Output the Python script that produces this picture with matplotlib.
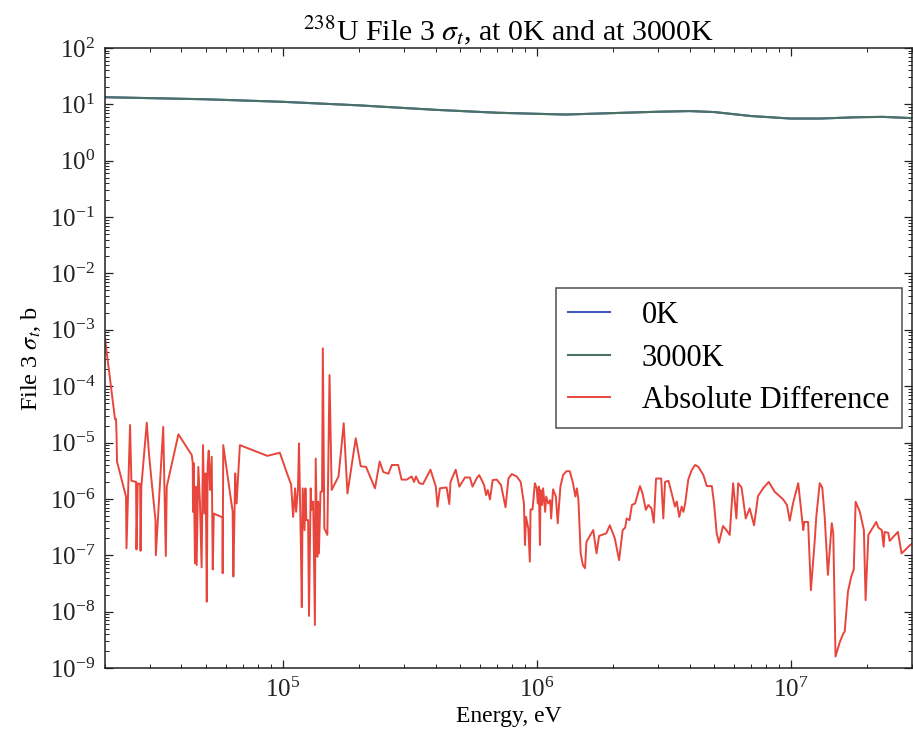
import matplotlib
matplotlib.use("Agg")
import matplotlib.pyplot as plt
import numpy as np

# ---- data ----
energy_total = [2.0e4, 5.0e4, 1.0e5, 2.0e5, 4.0e5, 7.0e5, 1.0e6, 1.3e6, 2.0e6, 3.0e6,
                4.0e6, 5.0e6, 7.0e6, 1.0e7, 1.3e7, 1.8e7, 2.3e7, 3.0e7]
sigma_0K = [13.4, 12.3, 11.1, 9.6, 8.0, 7.1, 6.8, 6.6, 7.0, 7.4,
            7.6, 7.3, 6.2, 5.6, 5.6, 5.9, 6.0, 5.7]
sigma_3000K = list(sigma_0K)

energy_diff = [
    2.0e4, 2.19e4, 2.21e4, 2.22e4, 2.23e4, 2.42e4, 2.43e4, 2.51e4, 2.54e4, 2.65e4,
    2.66e4, 2.69e4, 2.75e4, 2.76e4, 2.78e4, 2.92e4, 2.98e4, 3.03e4, 3.16e4, 3.17e4,
    3.39e4, 3.47e4, 3.50e4, 3.89e4, 4.39e4, 4.43e4, 4.44e4, 4.47e4, 4.52e4, 4.55e4,
    4.59e4, 4.66e4, 4.73e4, 4.80e4, 4.86e4, 4.92e4, 4.98e4, 5.03e4, 5.07e4, 5.12e4,
    5.18e4, 5.26e4, 5.31e4, 5.36e4, 5.80e4, 5.81e4, 5.84e4, 6.36e4, 6.40e4, 6.51e4,
    6.59e4, 6.79e4, 8.71e4, 9.75e4, 1.07e5, 1.08e5, 1.10e5, 1.12e5, 1.13e5, 1.15e5,
    1.16e5, 1.18e5, 1.19e5, 1.20e5, 1.22e5, 1.23e5, 1.24e5, 1.26e5, 1.27e5, 1.29e5,
    1.30e5, 1.32e5, 1.34e5, 1.35e5, 1.37e5, 1.38e5, 1.39e5, 1.41e5, 1.43e5, 1.44e5,
    1.46e5, 1.50e5, 1.53e5, 1.56e5, 1.66e5, 1.74e5, 1.80e5, 1.94e5, 2.03e5, 2.13e5,
    2.31e5, 2.41e5, 2.49e5, 2.61e5, 2.69e5, 2.85e5, 2.94e5, 3.08e5, 3.22e5, 3.29e5,
    3.35e5, 3.45e5, 3.57e5, 3.82e5, 4.01e5, 4.07e5, 4.16e5, 4.42e5, 4.53e5, 4.58e5,
    4.80e5, 4.96e5, 5.22e5, 5.46e5, 5.59e5, 5.80e5, 5.94e5, 6.21e5, 6.32e5, 6.42e5,
    6.55e5, 6.71e5, 6.96e5, 7.24e5, 7.54e5, 7.74e5, 7.98e5, 8.35e5, 8.65e5, 8.91e5,
    8.99e5, 9.08e5, 9.27e5, 9.40e5, 9.46e5, 9.63e5, 9.84e5, 1.00e6, 1.01e6, 1.02e6,
    1.03e6, 1.035e6, 1.05e6, 1.06e6, 1.08e6, 1.09e6, 1.11e6, 1.13e6, 1.14e6, 1.16e6,
    1.19e6, 1.21e6, 1.24e6, 1.27e6, 1.31e6, 1.35e6, 1.39e6, 1.42e6, 1.44e6, 1.46e6,
    1.49e6, 1.52e6, 1.55e6, 1.57e6, 1.67e6, 1.72e6, 1.76e6, 1.88e6, 1.94e6, 2.03e6,
    2.11e6, 2.18e6, 2.23e6, 2.26e6, 2.32e6, 2.37e6, 2.44e6, 2.55e6, 2.61e6, 2.69e6,
    2.75e6, 2.83e6, 2.89e6, 2.95e6, 3.09e6, 3.15e6, 3.20e6, 3.30e6, 3.40e6, 3.50e6,
    3.56e6, 3.64e6, 3.72e6, 3.78e6, 3.84e6, 3.95e6, 4.07e6, 4.20e6, 4.33e6, 4.53e6,
    4.67e6, 4.89e6, 4.99e6, 5.11e6, 5.22e6, 5.41e6, 5.58e6, 5.75e6, 5.93e6, 6.11e6,
    6.21e6, 6.40e6, 6.65e6, 6.89e6, 7.17e6, 7.43e6, 7.78e6, 8.19e6, 8.64e6, 9.33e6,
    9.66e6, 9.91e6, 1.02e7, 1.07e7, 1.12e7, 1.13e7, 1.17e7, 1.20e7, 1.24e7, 1.26e7,
    1.30e7, 1.33e7, 1.36e7, 1.40e7, 1.45e7, 1.47e7, 1.50e7, 1.56e7, 1.61e7, 1.63e7,
    1.68e7, 1.73e7, 1.77e7, 1.80e7, 1.87e7, 1.94e7, 1.97e7, 2.02e7, 2.17e7, 2.21e7,
    2.28e7, 2.32e7, 2.34e7, 2.42e7, 2.45e7, 2.64e7, 2.73e7, 2.85e7, 2.94e7, 3.0e7]

abs_diff = [
    7.0e-4, 2.6e-5, 2.6e-5, 1.46e-5, 4.6e-6, 1.09e-6, 1.33e-7, 2.05e-5, 2.1e-6, 2.0e-6,
    1.27e-7, 1.89e-6, 1.84e-6, 1.2e-7, 1.65e-6, 2.25e-5, 6.25e-6, 2.84e-6, 4.2e-7, 1.0e-7,
    1.9e-5, 9.7e-8, 1.65e-6, 1.4e-5, 6.0e-6, 4.3e-6, 5.9e-7, 4.3e-6, 7.2e-8, 1.65e-6,
    6.7e-8, 3.7e-6, 8.3e-7, 6.1e-8, 9.0e-6, 5.5e-7, 2.84e-6, 1.5e-8, 3.7e-6, 7.2e-6,
    1.44e-6, 5.6e-6, 5.6e-8, 5.5e-7, 4.7e-7, 4.8e-8, 9.0e-6, 5.9e-7, 4.2e-8, 2.84e-6,
    8.3e-7, 9.0e-6, 5.8e-6, 6.6e-6, 2.0e-6, 1.84e-6, 4.8e-7, 1.54e-6, 5.9e-7, 1.54e-6,
    9.7e-6, 1.6e-7, 1.2e-8, 1.54e-6, 2.8e-7, 1.54e-6, 4.2e-7, 4.2e-7, 8.4e-9, 1.54e-6,
    6.4e-7, 8.9e-7, 5.8e-9, 5.2e-6, 9.4e-8, 8.9e-7, 1.08e-7, 1.34e-6, 1.34e-6, 4.7e-4,
    3.0e-7, 2.3e-7, 1.58e-4, 1.44e-6, 2.5e-6, 2.2e-5, 1.25e-6, 1.19e-5, 3.8e-6, 3.7e-6,
    1.54e-6, 4.6e-6, 3.0e-6, 2.8e-6, 4.0e-6, 4.0e-6, 2.2e-6, 2.2e-6, 2.5e-6, 2.0e-6,
    2.5e-6, 1.9e-6, 1.84e-6, 3.3e-6, 1.65e-6, 7.3e-7, 1.54e-6, 1.6e-6, 8.1e-7, 2.0e-6,
    3.3e-6, 1.65e-6, 2.4e-6, 2.4e-6, 1.65e-6, 2.3e-6, 2.65e-6, 1.76e-6, 1.17e-6, 1.44e-6,
    9.8e-7, 2.16e-6, 2.2e-6, 1.76e-6, 7.1e-7, 2.3e-6, 2.76e-6, 2.5e-6, 2.0e-6, 8.3e-7,
    1.52e-7, 4.8e-7, 3.0e-7, 7.7e-8, 6.5e-7, 6.5e-7, 1.9e-6, 1.54e-6, 8.3e-7, 1.65e-6,
    1.52e-7, 1.44e-6, 7.8e-7, 1.54e-6, 5.9e-7, 1.1e-6, 8.3e-7, 9.5e-7, 4.5e-7, 1.48e-6,
    1.1e-6, 3.7e-7, 1.65e-6, 2.65e-6, 3.1e-6, 3.1e-6, 1.9e-6, 1.1e-6, 1.54e-6, 9.5e-7,
    1.08e-7, 6.7e-8, 5.9e-8, 1.74e-7, 2.8e-7, 1.08e-7, 2.2e-7, 2.45e-7, 3.4e-7, 2.0e-7,
    8.2e-8, 2.8e-7, 3.1e-7, 4.5e-7, 4.2e-7, 7.8e-7, 8.3e-7, 1.69e-6, 1.25e-6, 6.4e-7,
    7.8e-7, 6.8e-7, 3.8e-7, 2.3e-6, 2.3e-6, 4.5e-7, 2.0e-6, 2.1e-6, 1.25e-6, 7.3e-7,
    9.0e-7, 4.8e-7, 7.3e-7, 5.9e-7, 8.3e-7, 2.2e-6, 3.2e-6, 4.0e-6, 3.7e-6, 2.65e-6,
    1.69e-6, 1.69e-6, 8.3e-7, 2.45e-7, 1.67e-7, 3.3e-7, 2.8e-7, 2.3e-7, 1.9e-6, 4.5e-7,
    1.9e-6, 1.6e-6, 4.5e-7, 6.8e-7, 3.4e-7, 1.12e-6, 1.54e-6, 2.0e-6, 1.34e-6, 9.8e-7,
    7.8e-7, 4.1e-7, 8.3e-7, 1.9e-6, 2.8e-7, 3.9e-7, 3.9e-7, 2.4e-8, 1.6e-7, 4.8e-7,
    1.9e-6, 1.6e-6, 4.8e-7, 4.5e-8, 3.7e-7, 2.45e-7, 1.6e-9, 2.9e-9, 4.1e-9, 4.4e-9,
    2.3e-8, 4.2e-8, 5.6e-8, 8.9e-7, 5.9e-7, 2.8e-7, 1.6e-8, 2.3e-7, 3.9e-7, 3.1e-7,
    2.8e-7, 1.42e-7, 2.6e-7, 2.5e-7, 1.8e-7, 2.6e-7, 1.08e-7, 1.3e-7, 1.5e-7, 1.6e-7]

y_ticks = [1e-9, 1e-8, 1e-7, 1e-6, 1e-5, 1e-4, 1e-3, 1e-2, 1e-1, 1e0, 1e1, 1e2]
x_ticks = [1e5, 1e6, 1e7]

title_text = r"$^{238}$U File 3 $\sigma_t$, at 0K and at 3000K"
xlabel_text = "Energy, eV"
ylabel_text = r"File 3 $\sigma_t$, b"
legend_labels = ["0K", "3000K", "Absolute Difference"]

# ---- style ----
plt.rcParams['font.family'] = ['Liberation Serif', 'DejaVu Serif']
plt.rcParams['mathtext.fontset'] = 'stix'
plt.rcParams['axes.linewidth'] = 1.1

fig = plt.figure(figsize=(9.13, 7.34), dpi=100, facecolor='white')
ax = fig.add_axes([105/913, 1 - 668/734, 807/913, 620/734])

ax.plot(energy_total, sigma_0K, color='#4658c2', lw=1.5, label=legend_labels[0])
ax.plot(energy_total, sigma_3000K, color='#4b7262', lw=1.5, label=legend_labels[1])
ax.plot(energy_diff, abs_diff, color='#e8463c', lw=1.4, label=legend_labels[2])

ax.set_xscale('log')
ax.set_yscale('log')
ax.set_xlim(2e4, 3e7)
ax.set_ylim(1e-9, 1e2)
ax.yaxis.set_major_locator(matplotlib.ticker.FixedLocator(y_ticks))
ax.xaxis.set_major_locator(matplotlib.ticker.FixedLocator(x_ticks))
ax.yaxis.set_major_formatter(matplotlib.ticker.LogFormatterSciNotation())
ax.xaxis.set_major_formatter(matplotlib.ticker.LogFormatterSciNotation())
ax.yaxis.set_minor_locator(matplotlib.ticker.LogLocator(base=10, subs=np.arange(2, 10), numticks=20))
ax.yaxis.set_minor_formatter(matplotlib.ticker.NullFormatter())
ax.xaxis.set_minor_formatter(matplotlib.ticker.NullFormatter())

ax.tick_params(which='both', direction='in', top=True, right=True, colors='#222222')
ax.tick_params(which='major', length=6, width=0.9, labelsize=18, pad=7)
ax.tick_params(which='minor', length=3, width=0.7)
for s in ax.spines.values():
    s.set_color('#222222')

ax.set_title(title_text, fontsize=21.5, pad=5.5)
ax.set_xlabel(xlabel_text, fontsize=17, labelpad=3)
ax.set_ylabel(ylabel_text, fontsize=17.5, labelpad=5)

leg = ax.legend(loc='center right', fontsize=22, frameon=True, fancybox=False,
                edgecolor='#222222', handlelength=1.35, handletextpad=1.05,
                labelspacing=0.44, borderpad=0.42, borderaxespad=0.33)
leg.get_frame().set_linewidth(1.1)

fig.savefig('out.png', dpi=100, facecolor='white')
